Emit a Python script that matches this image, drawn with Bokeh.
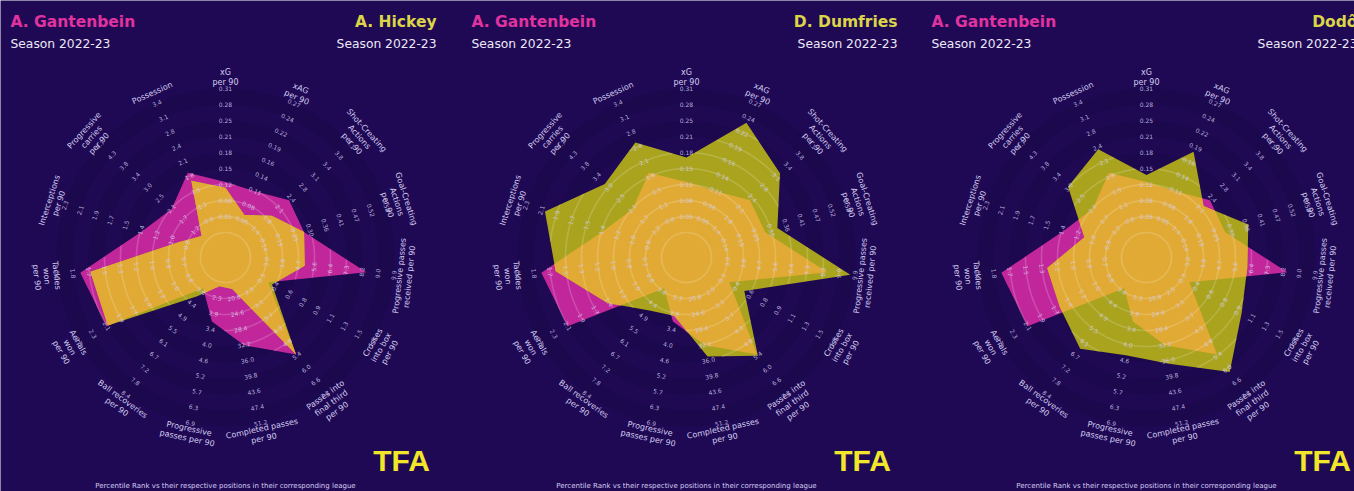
import numpy as np
from bokeh.plotting import figure
from bokeh.models import Range1d
from bokeh.core.properties import value
from bokeh.embed import file_html
from bokeh.resources import INLINE

# ---------------- data ----------------
params = ["xG\nper 90", "xAG\nper 90", "Shot-Creating\nActions\nper 90",
          "Goal-Creating\nActions\nper 90", "Progressive passes\nreceived per 90",
          "Crosses\ninto box\nper 90", "Passes into\nfinal third\nper 90",
          "Completed passes\nper 90", "Progressive\npasses per 90",
          "Ball recoveries\nper 90", "Aerials\nwon\nper 90", "Tackles\nwon\nper 90",
          "Interceptions\nper 90", "Progressive\ncarries\nper 90", "Possession"]
range_low = [0.02, 0.03, 1.10, 0.08, 2.10, 0.08, 1.90, 17.0, 1.70, 3.20, 0.60, 0.50, 0.60, 0.80, 0.50]
range_high = [0.31, 0.27, 4.10, 0.58, 9.90, 1.64, 7.20, 51.2, 6.90, 8.40, 2.50, 2.00, 2.30, 4.70, 3.40]

player_a = "A. Gantenbein"
values_a = [35, 33, 42, 40, 81, 17, 66, 45, 28, 9, 78, 84, 43, 33, 47]

players_b = ["A. Hickey", "D. Dumfries", "Dodô"]
values_b = [
    [31, 15, 26, 40, 38, 20, 66, 5, 3, 16, 77, 77, 17, 5, 41],
    [52, 85, 70, 49, 97, 29, 67, 53, 24, 28, 46, 74, 86, 59, 70],
    [40, 63, 36, 57, 53, 59, 81, 58, 52, 61, 52, 52, 28, 56, 65],
]
season = "Season 2022-23"
footnote = "Percentile Rank vs their respective positions in their corresponding league"
logo = "TFA"

# ---------------- style ----------------
BG = "#1f0955"
RING_A = "#1c084d"
RING_B = "#1f0953"
COL_A = "#c2269b"
COL_B = "#a9a31d"
COL_AB = "#e1aa34"
TXT = "#d4cdef"
FONT = value("DejaVu Sans")

W, H = 1354, 491
p = figure(width=W, height=H, output_backend="svg", toolbar_location=None,
           x_range=Range1d(0, W), y_range=Range1d(0, H),
           min_border=0, background_fill_color=BG, border_fill_color=BG)
p.axis.visible = False
p.grid.visible = False
p.outline_line_color = None

n = len(params)
ang = np.deg2rad(90 - 360.0 / n * np.arange(n))
R0, RW, NR = 25.0, 16.0, 9
RMAX = R0 + RW * NR


def radii(vals):
    return R0 + np.asarray(vals, float) / 100.0 * (RMAX - R0)


def ray_radius(rv, phi):
    cw = np.mod(np.pi / 2 - phi, 2 * np.pi)
    step = 2 * np.pi / n
    k = np.floor(cw / step).astype(int) % n
    j = (k + 1) % n
    px, py = rv[k] * np.cos(ang[k]), rv[k] * np.sin(ang[k])
    qx, qy = rv[j] * np.cos(ang[j]), rv[j] * np.sin(ang[j])
    ex, ey = qx - px, qy - py
    dx, dy = np.cos(phi), np.sin(phi)
    return (px * ey - py * ex) / (dx * ey - dy * ex)


def intersection(ra, rb):
    pts = []
    for k in range(n):
        j = (k + 1) % n
        rk = min(ra[k], rb[k])
        pts.append((rk * np.cos(ang[k]), rk * np.sin(ang[k])))
        da, db = ra[k] - rb[k], ra[j] - rb[j]
        if da * db < 0:
            a1 = np.array([ra[k] * np.cos(ang[k]), ra[k] * np.sin(ang[k])])
            a2 = np.array([ra[j] * np.cos(ang[j]), ra[j] * np.sin(ang[j])])
            b1 = np.array([rb[k] * np.cos(ang[k]), rb[k] * np.sin(ang[k])])
            b2 = np.array([rb[j] * np.cos(ang[j]), rb[j] * np.sin(ang[j])])
            u, v = a2 - a1, b2 - b1
            w = b1 - a1
            t = (w[0] * v[1] - w[1] * v[0]) / (u[0] * v[1] - u[1] * v[0])
            pts.append(tuple(a1 + t * u))
    return np.array(pts)


def rot_deg(k):
    r = -360.0 / n * k
    r = (r + 180) % 360 - 180
    if r > 90:
        r -= 180
    elif r < -90:
        r += 180
    return r


offsets = [0, 461, 921]
CY = H - 257
ra = radii(values_a)
phi = np.linspace(0, 2 * np.pi, 1441)[:-1] + 1e-6

for pi_, off in enumerate(offsets):
    cx = off + 225
    rb = radii(values_b[pi_])

    # background rings
    rads = [RMAX - RW * i for i in range(NR + 1)]
    cols = [RING_A if i % 2 == 0 else RING_B for i in range(NR + 1)]
    p.circle(x=[cx] * len(rads), y=[CY] * len(rads), radius=rads,
             fill_color=cols, line_color=None)

    # polygons
    p.patch(cx + ra * np.cos(ang), CY + ra * np.sin(ang), fill_color=COL_A, line_color=None)
    p.patch(cx + rb * np.cos(ang), CY + rb * np.sin(ang), fill_color=COL_B, line_color=None)
    ip = intersection(ra, rb)
    p.patch(cx + ip[:, 0], CY + ip[:, 1], fill_color=COL_AB, line_color=None)

    # ring lines clipped to union of polygons
    U = np.maximum(ray_radius(ra, phi), ray_radius(rb, phi))
    for i in range(NR + 1):
        rho = R0 + RW * i
        m = rho <= U
        xs = np.where(m, cx + rho * np.cos(phi), np.nan)
        ys = np.where(m, CY + rho * np.sin(phi), np.nan)
        xs = np.append(xs, xs[0])
        ys = np.append(ys, ys[0])
        p.line(xs, ys, line_color="white", line_alpha=0.18, line_width=1.6)

    # range labels
    lx, ly, lt, la = [], [], [], []
    for k in range(n):
        vals = np.linspace(range_low[k], range_high[k], NR + 1)
        for i in range(1, NR + 1):
            rr = R0 + RW * i
            lx.append(cx + rr * np.cos(ang[k]))
            ly.append(CY + rr * np.sin(ang[k]))
            v = vals[i]
            lt.append(f"{v:.2f}" if range_high[k] < 1 else f"{v:.1f}")
            la.append(np.deg2rad(rot_deg(k)))
    p.text(x=lx, y=ly, text=lt, angle=la, text_align="center", text_baseline="middle",
           text_font=FONT, text_font_size="6px", text_color=TXT, text_alpha=0.85)

    # parameter labels
    RL = RMAX + 11
    p.text(x=[cx + RL * np.cos(a) for a in ang], y=[CY + RL * np.sin(a) for a in ang],
           text=params, angle=[np.deg2rad(rot_deg(k)) for k in range(n)],
           text_align="center", text_baseline="middle", text_font=FONT,
           text_font_size="8px", text_color=TXT, text_line_height=1.1)

    # titles
    p.text(x=[off + 10], y=[H - 21], text=[player_a], text_align="left",
           text_baseline="middle", text_font=FONT, text_font_style="bold",
           text_font_size="15.5px", text_color="#e0339f")
    p.text(x=[off + 10], y=[H - 43], text=[season], text_align="left",
           text_baseline="middle", text_font=FONT, text_font_size="12.3px", text_color="#ece8f6")
    p.text(x=[off + 436], y=[H - 21], text=[players_b[pi_]], text_align="right",
           text_baseline="middle", text_font=FONT, text_font_style="bold",
           text_font_size="15.5px", text_color="#dcd548")
    p.text(x=[off + 436], y=[H - 43], text=[season], text_align="right",
           text_baseline="middle", text_font=FONT, text_font_size="12.3px", text_color="#ece8f6")

    # logo and footnote
    p.text(x=[off + 401], y=[H - 460], text=[logo], text_align="center",
           text_baseline="middle", text_font=value("Liberation Sans"), text_font_style="bold",
           text_font_size="30px", text_color="#f2e62a")
    p.text(x=[off + 225], y=[H - 485], text=[footnote], text_align="center",
           text_baseline="middle", text_font=FONT, text_font_size="7px", text_color=TXT)

open("out.html", "w", encoding="utf-8").write(file_html(p, INLINE))
